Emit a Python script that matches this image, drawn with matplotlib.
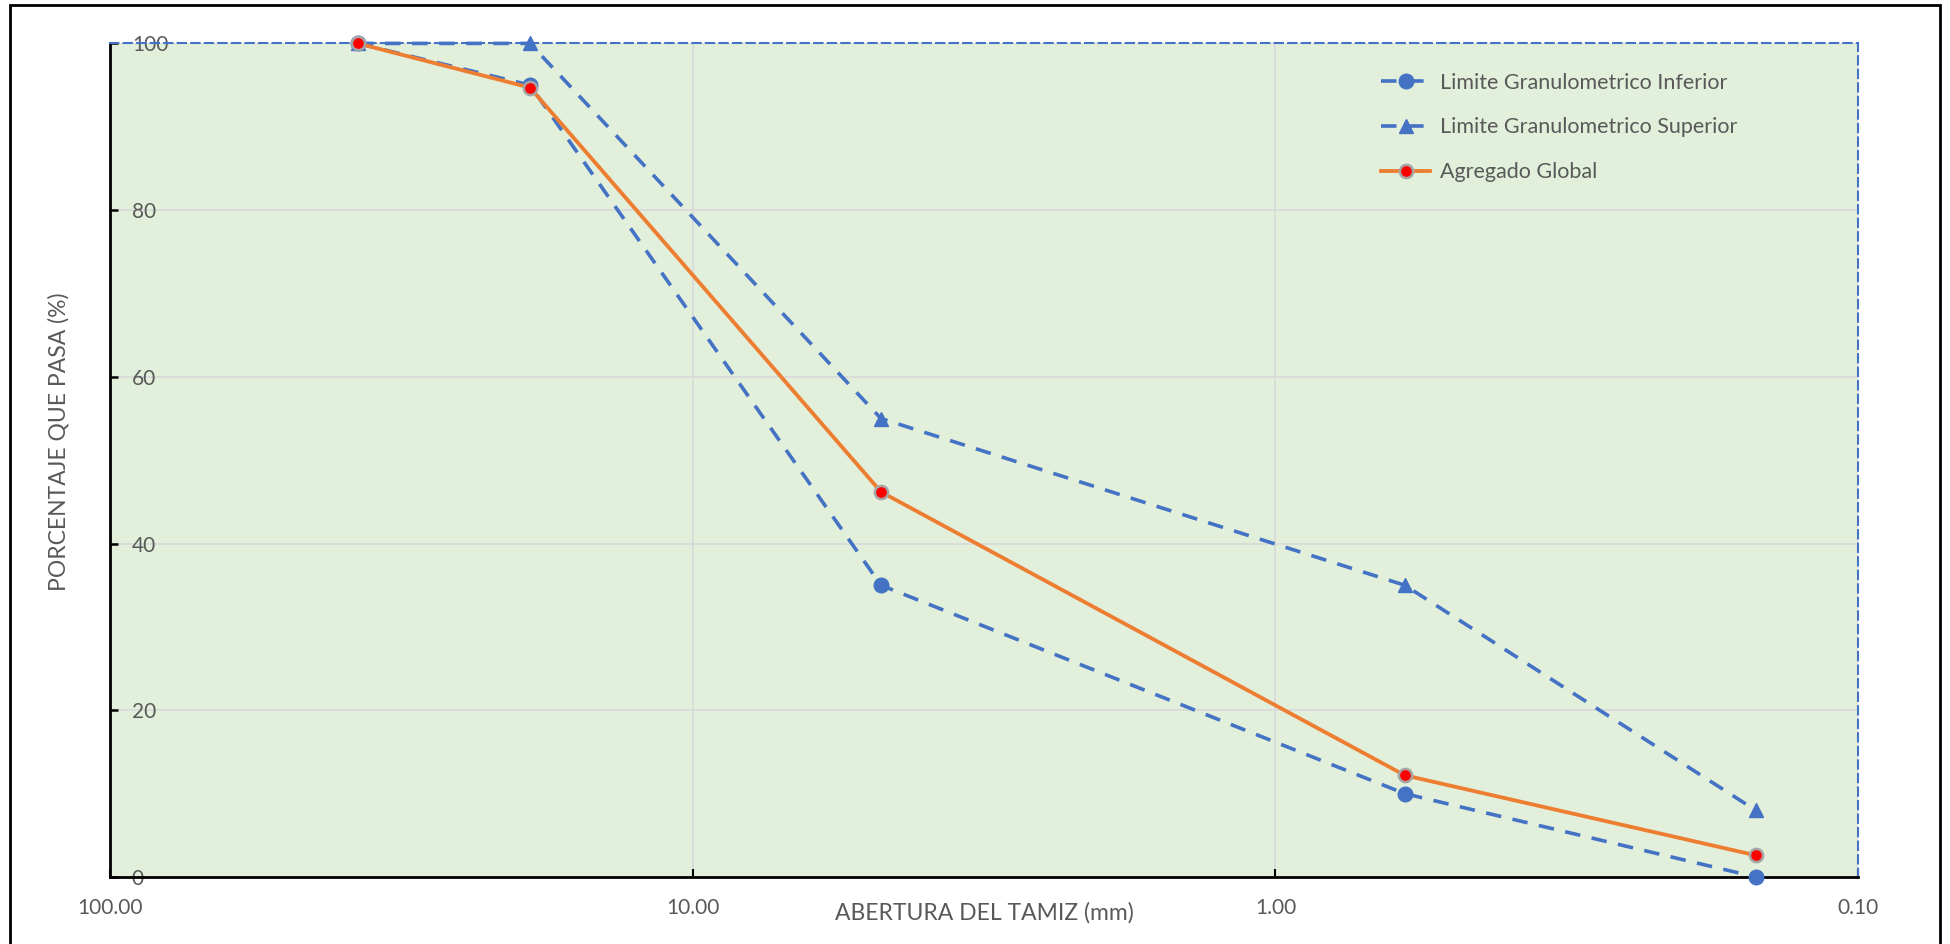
import matplotlib.pyplot as plt
from matplotlib.patches import Rectangle
from matplotlib.ticker import FixedLocator, NullLocator

# Abertura de tamices (mm) y porcentaje que pasa
tamiz_mm = [37.5, 19.0, 4.75, 0.60, 0.15]
lim_inferior = [100, 95, 35, 10, 0]
lim_superior = [100, 100, 55, 35, 8]
agregado_global = [100, 94.7, 46.2, 12.2, 2.6]

x_ticks = [100, 10, 1, 0.1]
x_tick_labels = ['100.00', '10.00', '1.00', '0.10']
y_ticks = [0, 20, 40, 60, 80, 100]

azul = '#4472C4'
naranja = '#ED7D31'
gris_txt = '#595959'
guiones = (0, (4.3, 3.2))

plt.rcParams['font.family'] = ['Lato', 'DejaVu Sans']

fig = plt.figure(figsize=(19.5, 9.44), dpi=100)
ax = fig.add_axes([0.0562, 0.071, 0.8968, 0.883])
ax.set_facecolor('#E2EFDA')

ax.plot(tamiz_mm, lim_inferior, color=azul, linestyle=guiones, linewidth=2.6,
        marker='o', markersize=10.5, label='Limite Granulometrico Inferior',
        clip_on=False, zorder=3)
ax.plot(tamiz_mm, lim_superior, color=azul, linestyle=guiones, linewidth=2.6,
        marker='^', markersize=10.5, label='Limite Granulometrico Superior',
        clip_on=False, zorder=3)
ax.plot(tamiz_mm, agregado_global, color=naranja, linewidth=2.75,
        marker='o', markersize=9.5, markerfacecolor='red', markeredgecolor='#A5A5A5',
        markeredgewidth=1.8, label='Agregado Global', clip_on=False, zorder=4)

ax.set_xscale('log')
ax.set_xlim(100, 0.1)
ax.set_ylim(0, 100)
ax.xaxis.set_major_locator(FixedLocator(x_ticks))
ax.xaxis.set_minor_locator(NullLocator())
ax.set_xticklabels(x_tick_labels)
ax.set_yticks(y_ticks)

ax.grid(True, color='#D9D9D9', linewidth=1.2, zorder=0)
ax.set_axisbelow(True)

for lado in ['top', 'right']:
    ax.spines[lado].set_color(azul)
    ax.spines[lado].set_linestyle((0, (4, 2.5)))
    ax.spines[lado].set_linewidth(1.5)
for lado in ['left', 'bottom']:
    ax.spines[lado].set_color('black')
    ax.spines[lado].set_linewidth(2)

ax.tick_params(axis='x', direction='in', length=6, width=1.5, pad=15,
               labelsize=15, labelcolor=gris_txt)
ax.tick_params(axis='y', direction='in', length=5.5, width=1.8, pad=-16,
               labelsize=15, labelcolor=gris_txt)
for lbl in ax.get_yticklabels():
    lbl.set_horizontalalignment('left')

ax.set_xlabel('ABERTURA DEL TAMIZ (mm)', fontsize=16.5, color=gris_txt, labelpad=-11)
ax.set_ylabel('PORCENTAJE QUE PASA (%)', fontsize=16.5, color=gris_txt)
ax.yaxis.set_label_coords(-0.0229, 0.522)

ax.legend(loc='upper left', bbox_to_anchor=(0.727, 0.965), frameon=False,
          borderaxespad=0, borderpad=0, fontsize=15.5, labelcolor=gris_txt,
          handlelength=2.3, labelspacing=1.15, handletextpad=0.45)

# Marco exterior del grafico
fig.patches.append(Rectangle((0.005, -0.05), 0.99, 1.045, transform=fig.transFigure,
                             fill=False, edgecolor='black', linewidth=2))

fig.savefig('out.png', dpi=100)
